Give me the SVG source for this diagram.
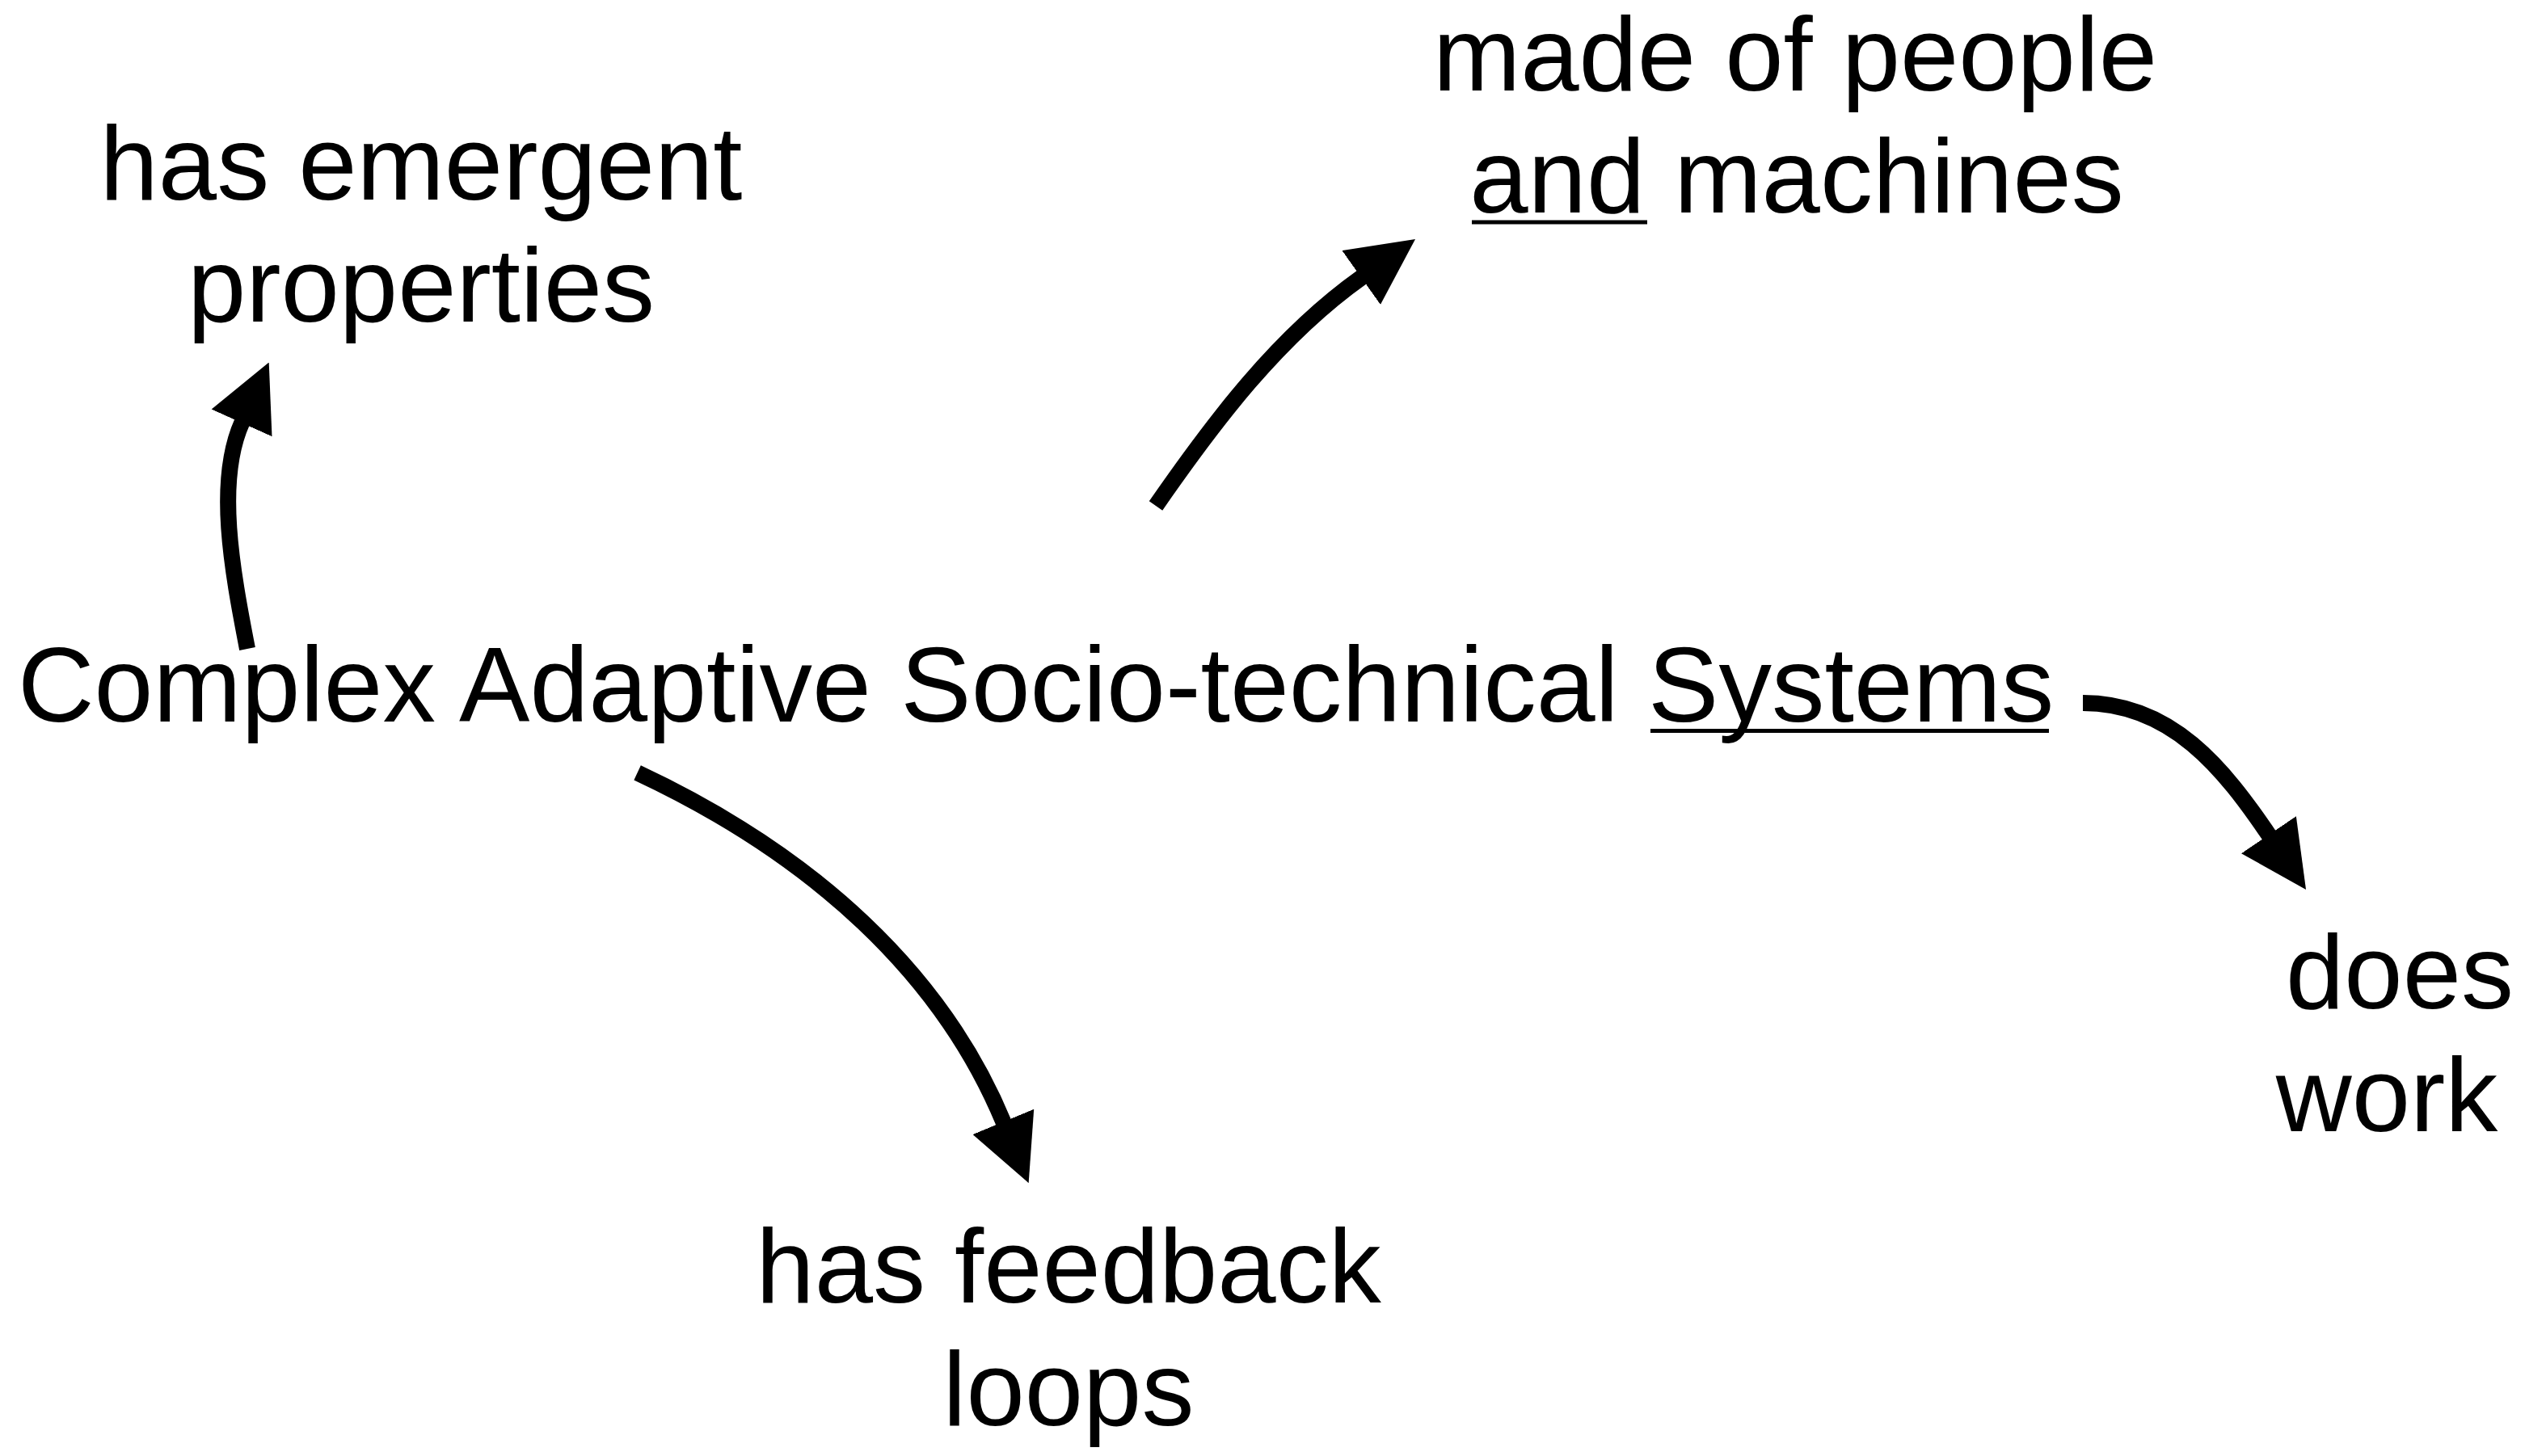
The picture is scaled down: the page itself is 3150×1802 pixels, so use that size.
<svg xmlns="http://www.w3.org/2000/svg" width="3150" height="1802" viewBox="0 0 3150 1802">
  <style>
    .label { font-family: "Liberation Sans", Arial, Helvetica, sans-serif; font-size: 130px; fill: #000; }
    .main { font-size: 131px; }
    .mid { text-anchor: middle; }
    .underline { stroke: #000; stroke-width: 5; }
    .edge { fill: none; stroke: #000; stroke-width: 20; stroke-linecap: butt; marker-end: url(#head); }
  </style>
  <defs>
    <marker id="head" markerUnits="userSpaceOnUse" markerWidth="82" markerHeight="82" viewBox="0 0 82 82" refX="1" refY="41" orient="auto">
      <path d="M0,0 L82,41 L0,82 Z" fill="#000"/>
    </marker>
  </defs>
  <rect width="3150" height="1802" fill="#fff"/>

  <!-- central concept -->
  <g id="node-cass">
    <text class="label main" x="22" y="893">Complex Adaptive Socio-technical Systems</text>
    <line class="underline" x1="2042" y1="904.5" x2="2535" y2="904.5"/>
  </g>

  <g id="node-emergent">
    <text class="label mid" x="521" y="247">has emergent</text>
    <text class="label mid" x="521" y="398">properties</text>
  </g>

  <g id="node-people-machines">
    <text class="label mid" x="2221" y="112">made of people</text>
    <text class="label mid" x="2223" y="263">and machines</text>
    <line class="underline" x1="1821" y1="275" x2="2038" y2="275"/>
  </g>

  <g id="node-work">
    <text class="label mid" x="2969" y="1248">does</text>
    <text class="label mid" x="2953" y="1400">work</text>
  </g>

  <g id="node-feedback">
    <text class="label mid" x="1322" y="1612">has feedback</text>
    <text class="label mid" x="1322" y="1764">loops</text>
  </g>

  <!-- curved connectors from the central concept -->
  <g id="connectors">
    <path class="edge" d="M306,803 C287,705 266.7,595.5 299.5,522.5"/>
    <path class="edge" d="M1430,626 C1502,522 1581.5,416.5 1685,343"/>
    <path class="edge" d="M2577,870 C2687,870 2751.3,951.3 2807.5,1034"/>
    <path class="edge" d="M788.6,956.4 C1005.8,1058.2 1165.3,1204.5 1241.7,1389.3"/>
  </g>
</svg>
